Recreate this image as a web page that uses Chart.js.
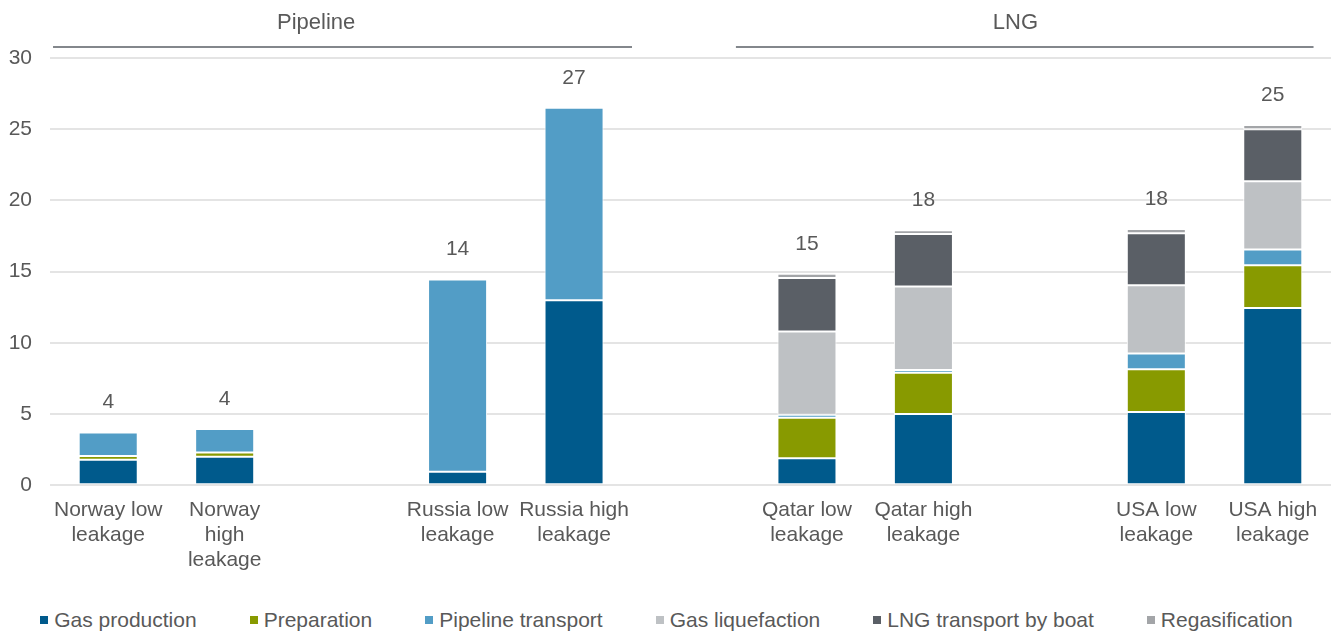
<!DOCTYPE html>
<html>
<head>
<meta charset="utf-8">
<script src="https://cdn.jsdelivr.net/npm/chart.js@4.4.1/dist/chart.umd.min.js"></script>
<style>
  html, body { margin: 0; padding: 0; background: #fff; }
  #wrap { position: relative; width: 1333px; height: 634px; }
  #chart { display: block; }
  #legend {
    position: absolute; left: 0; top: 605px; width: 1333px; height: 30px;
    display: flex; justify-content: center; align-items: center;
    font: 21px "Liberation Sans", Arial, sans-serif; color: #595959;
  }
  #legend .item { display: flex; align-items: center; margin: 0 26.5px; white-space: nowrap; }
  #legend .box { width: 8px; height: 8px; margin-right: 6px; }
</style>
</head>
<body>
<div id="wrap">
  <canvas id="chart" width="1333" height="600"></canvas>
  <div id="legend"></div>
</div>
<script>
// Emissions by supply route and stage (stacked)
const categories = [
  ["Norway low", "leakage"], ["Norway", "high", "leakage"], "",
  ["Russia low", "leakage"], ["Russia high", "leakage"], "",
  ["Qatar low", "leakage"], ["Qatar high", "leakage"], "",
  ["USA low", "leakage"], ["USA high", "leakage"]
];
const gasProduction     = [1.8, 2.0, null, 0.95, 13.0, null, 1.9, 5.0, null, 5.15, 12.45];
const preparation       = [0.25, 0.3, null, 0, 0, null, 2.85, 2.9, null, 3.0, 3.0];
const pipelineTransport = [1.65, 1.65, null, 13.5, 13.5, null, 0.2, 0.2, null, 1.1, 1.1];
const gasLiquefaction   = [0, 0, null, 0, 0, null, 5.85, 5.85, null, 4.8, 4.8];
const lngTransportBoat  = [0, 0, null, 0, 0, null, 3.75, 3.7, null, 3.65, 3.65];
const regasification    = [0, 0, null, 0, 0, null, 0.3, 0.25, null, 0.3, 0.3];
const yTicks = [0, 5, 10, 15, 20, 25, 30];
const groupNames = ["Pipeline", "LNG"];

const FONT = '"Liberation Sans", Arial, sans-serif';
const TEXT = '#595959';

const series = [
  { label: 'Gas production',        data: gasProduction,     color: '#005A8C' },
  { label: 'Preparation',           data: preparation,       color: '#889A00' },
  { label: 'Pipeline transport',    data: pipelineTransport, color: '#529DC6' },
  { label: 'Gas liquefaction',      data: gasLiquefaction,   color: '#BEC1C4' },
  { label: 'LNG transport by boat', data: lngTransportBoat,  color: '#5A5F66' },
  { label: 'Regasification',        data: regasification,    color: '#A3A5A8' }
];

// Stack totals written above each bar
const totalsPlugin = {
  id: 'totals',
  afterDatasetsDraw(chart) {
    const { ctx, scales: { x, y } } = chart;
    ctx.save();
    ctx.font = '21px ' + FONT;
    ctx.fillStyle = TEXT;
    ctx.textAlign = 'center';
    ctx.textBaseline = 'middle';
    categories.forEach((c, i) => {
      let sum = 0, any = false;
      chart.data.datasets.forEach(ds => {
        const v = ds.data[i];
        if (v != null) { sum += v; any = true; }
      });
      if (!any || sum <= 0) return;
      ctx.fillText(String(Math.round(sum)), x.getPixelForValue(i), y.getPixelForValue(sum) - 30);
    });
    ctx.restore();
  }
};

// Group headers with a rule underneath, spans given in category units
const groupSpans = [
  { from: -0.474, to: 4.498, textAt: 1.785 },
  { from: 5.39, to: 10.35, textAt: 7.79 }
];
const groupsPlugin = {
  id: 'groups',
  afterDraw(chart) {
    const { ctx, scales: { x } } = chart;
    const step = x.getPixelForValue(1) - x.getPixelForValue(0);
    const px = v => x.getPixelForValue(0) + v * step;
    ctx.save();
    groupSpans.forEach((g, k) => {
      ctx.strokeStyle = '#5A5F66';
      ctx.lineWidth = 1.6;
      ctx.beginPath();
      ctx.moveTo(px(g.from), 47);
      ctx.lineTo(px(g.to), 47);
      ctx.stroke();
      ctx.font = '22px ' + FONT;
      ctx.fillStyle = TEXT;
      ctx.textAlign = 'center';
      ctx.textBaseline = 'middle';
      ctx.fillText(groupNames[k], px(g.textAt), 23);
    });
    ctx.restore();
  }
};

const chart = new Chart(document.getElementById('chart'), {
  type: 'bar',
  data: {
    labels: categories,
    datasets: series.map(s => ({
      label: s.label,
      data: s.data,
      backgroundColor: s.color,
      borderColor: '#ffffff',
      borderWidth: 1,
      borderSkipped: false,
      barPercentage: 0.507,
      categoryPercentage: 1.0
    }))
  },
  options: {
    responsive: false,
    animation: false,
    layout: { padding: { top: 58, left: 8, right: 2, bottom: 23 } },
    plugins: {
      legend: { display: false },
      tooltip: { enabled: false }
    },
    scales: {
      x: {
        stacked: true,
        grid: { display: false },
        border: { display: false },
        ticks: {
          autoSkip: false, maxRotation: 0, minRotation: 0, padding: 5,
          color: TEXT, font: { family: FONT, size: 21, lineHeight: 1.17 }
        }
      },
      y: {
        stacked: true,
        min: 0, max: 30,
        afterBuildTicks(axis) { axis.ticks = yTicks.map(v => ({ value: v })); },
        afterFit(axis) { axis.width = 42; },
        grid: { color: '#E4E4E4', lineWidth: 2, drawTicks: false },
        border: { display: false },
        ticks: { padding: 18, color: TEXT, font: { family: FONT, size: 21 } }
      }
    }
  },
  plugins: [totalsPlugin, groupsPlugin]
});

// Legend row
const legend = document.getElementById('legend');
series.forEach(s => {
  const item = document.createElement('div');
  item.className = 'item';
  const box = document.createElement('span');
  box.className = 'box';
  box.style.background = s.color;
  const txt = document.createElement('span');
  txt.textContent = s.label;
  item.appendChild(box);
  item.appendChild(txt);
  legend.appendChild(item);
});
</script>
</body>
</html>
